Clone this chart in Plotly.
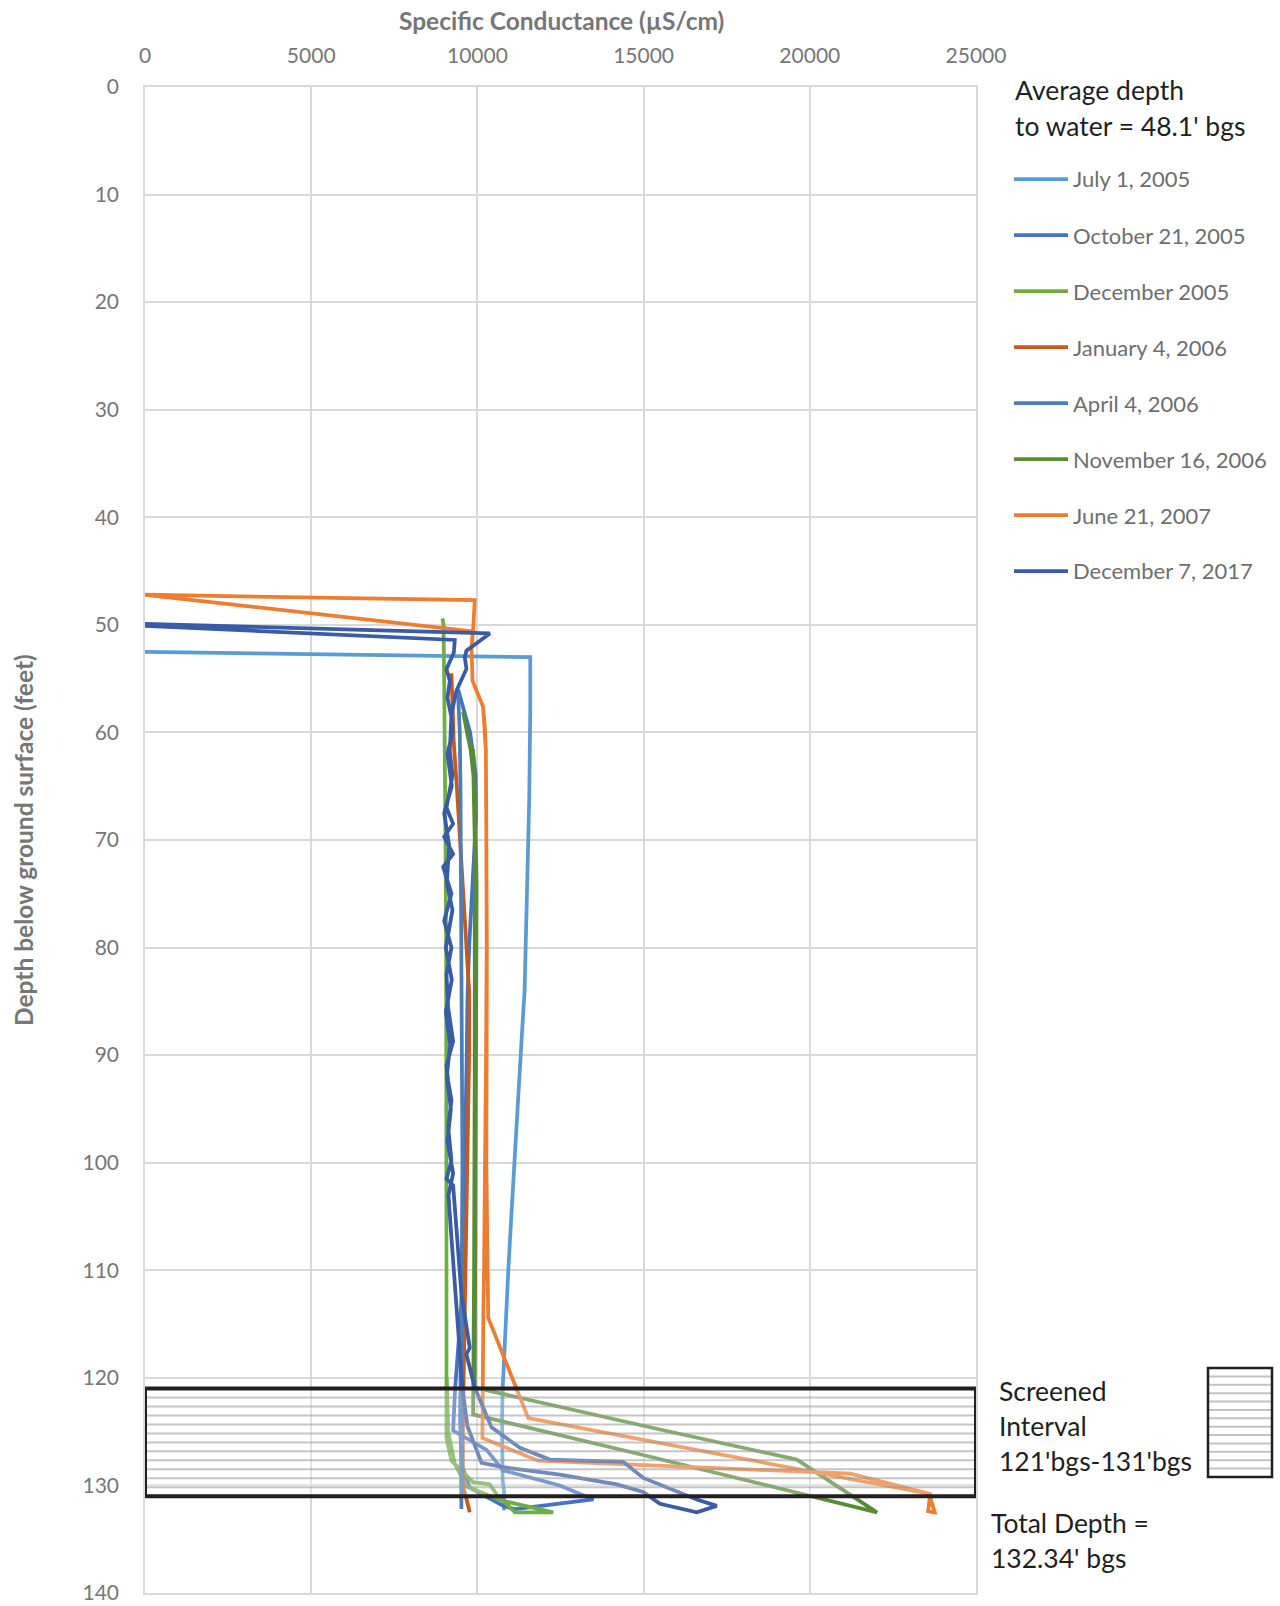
import plotly.graph_objects as go

# ---------------- specific conductance profiles (depth ft bgs, µS/cm) ----------------
jul05_depth = [52.5, 53.0, 58, 62, 66, 70, 75, 80, 84, 88, 91, 96, 100, 105, 110, 115, 118, 121, 124, 127, 129.5, 130.5, 132.3]
jul05_sc = [0, 11590, 11590, 11580, 11560, 11530, 11490, 11450, 11420, 11340, 11280, 11190, 11100, 11020, 10930, 10850, 10800, 10760, 10740, 10740, 10760, 10800, 10800]

oct05_depth = [56.0, 58.0, 60.0, 62.0, 64.0, 68, 72, 76, 80, 85, 90, 95, 100, 105, 110, 114, 118, 121, 124.9, 126.7, 128.6, 130.0, 131.3, 131.7, 132.2, 131.9, 130.2, 128.0, 124.0, 118, 110]
oct05_sc = [9420, 9600, 9780, 9870, 9950, 9960, 9900, 9820, 9750, 9700, 9680, 9650, 9620, 9600, 9560, 9500, 9400, 9330, 9270, 10275, 10775, 12480, 13490, 12480, 11130, 10775, 9770, 9520, 9480, 9500, 9540]

dec05_depth = [49.4, 50, 55, 60, 70, 80, 90, 100, 110, 120, 125.6, 127.7, 128.8, 129.7, 129.9, 130.8, 132.5, 132.5, 131.4, 130.1, 128.0, 125.0, 120]
dec05_sc = [8950, 8980, 9000, 9020, 9040, 9060, 9070, 9070, 9070, 9070, 9070, 9220, 9570, 9870, 10370, 10575, 11130, 12280, 10725, 9670, 9320, 9120, 9080]

jan06_depth = [54.5, 56, 58, 61, 65, 70, 75, 80, 84, 90, 100, 106, 110, 115, 121, 125, 129, 130.2, 131, 132.5]
jan06_sc = [9220, 9240, 9260, 9290, 9380, 9480, 9580, 9680, 9750, 9750, 9700, 9670, 9650, 9620, 9570, 9560, 9560, 9570, 9650, 9770]

apr06_depth = [56.5, 58, 60, 65, 70, 80, 90, 100, 110, 115, 120, 125, 128, 130, 132.2]
apr06_sc = [9420, 9440, 9470, 9490, 9500, 9520, 9550, 9550, 9530, 9520, 9520, 9500, 9500, 9510, 9520]

nov06_depth = [58.1, 60.5, 61.7, 64, 70, 74, 80, 90, 100, 110, 120.9, 124.8, 127.6, 132.5, 127.1, 123.4, 120.9, 110, 90, 70, 64, 61.7, 58.1]
nov06_sc = [9570, 9720, 9870, 9910, 9950, 9975, 9970, 9960, 9950, 9940, 9920, 15490, 19610, 22020, 14890, 9870, 9880, 9900, 9920, 9920, 9880, 9800, 9570]

jun07_depth = [47.2, 47.7, 50.6, 52.1, 55.2, 56.4, 57.6, 59.5, 61.7, 70, 80, 90, 100, 110, 114.0, 120, 125.6, 127.7, 128.9, 130.8,
               132.4, 132.5, 131.4, 130.8, 123.75, 114.4, 100, 80, 61.7, 57.6, 55.2, 52.1, 50.6, 47.2]
jun07_sc = [0, 9920, 9870, 9823, 9853, 10020, 10170, 10225, 10255, 10270, 10280, 10260, 10240, 10200, 10180, 10170, 10150, 11830, 21220, 23620,
            23560, 23760, 23650, 23620, 11530, 10325, 10270, 10285, 10255, 10170, 9853, 9823, 9860, 0]

dec17_depth = [49.9, 50.8, 52.4, 53.0, 54.1, 56.1, 58.3, 61.7, 64, 67, 68.5, 69.7, 71.3, 72.5, 75, 77.5, 80, 82.5, 85.6, 88.7,
               91, 92.4, 94.2, 96.7, 99.8, 101.5, 102.1, 106, 112.2, 117.2, 117.8, 120.9, 124.6, 126.5, 127.6, 127.8, 129.3,
               131.3, 131.9, 132.5, 131.7, 130.6, 129.9, 129.0, 128.3, 127.9, 124.5, 121, 117, 112, 107, 103, 101,
               98, 95, 92, 89, 86, 83, 80, 76.5, 74, 70.5, 67.5, 65, 62, 60, 58.6, 56.8, 55.2, 54.1, 52.6, 51.4, 50.1]
dec17_sc = [0, 10375, 9670, 9620, 9670, 9370, 9220, 9170, 9250, 9070, 9270, 9000, 9270, 8970, 9220, 9000, 9220, 9070, 9120, 9270,
            9070, 9120, 9220, 9120, 9220, 9070, 9270, 9370, 9520, 9770, 9670, 9920, 10425, 11280, 12180, 14390, 14990,
            16600, 17200, 16600, 15490, 14990, 14190, 12480, 10775, 10125, 9700, 9550, 9450, 9330, 9220, 9130, 9270,
            9100, 9200, 9080, 9180, 9050, 9230, 9050, 9250, 9080, 9150, 9000, 9230, 9100, 9250, 9220, 9100, 9170, 9070, 9290, 9320, 0]

series_names = ["July 1, 2005", "October 21, 2005", "December 2005", "January 4, 2006",
                "April 4, 2006", "November 16, 2006", "June 21, 2007", "December 7, 2017"]
series_depths = [jul05_depth, oct05_depth, dec05_depth, jan06_depth, apr06_depth, nov06_depth, jun07_depth, dec17_depth]
series_values = [jul05_sc, oct05_sc, dec05_sc, jan06_sc, apr06_sc, nov06_sc, jun07_sc, dec17_sc]
series_colors = ["#5B9BD5", "#4472C4", "#70AD47", "#C65A1E", "#4C7EB6", "#578B37", "#ED7D31", "#3A5BA6"]

x_ticks = [0, 5000, 10000, 15000, 20000, 25000]
y_ticks = list(range(0, 141, 10))
screen_top, screen_bottom = 121, 131

# ---------------- page geometry ----------------
FIG_W, FIG_H = 1280, 1606
L, R, T, B = 145, 976, 87, 1593
PW, PH = R - L, B - T
FONT = "Lato, 'Open Sans', sans-serif"


def pxx(px):
    return (px - L) / PW


def pxy(py):
    return 1 - (py - T) / PH


fig = go.Figure()
for name, d, v, c in zip(series_names, series_depths, series_values, series_colors):
    fig.add_trace(go.Scatter(x=v, y=d, mode="lines", name=name,
                             line=dict(color=c, width=3.75), showlegend=False))

shapes = []
annotations = []

# screened interval: translucent hatched band over the profiles
shapes.append(dict(type="rect", xref="x", yref="y", x0=x_ticks[0], x1=x_ticks[-1],
                   y0=screen_top, y1=screen_bottom, fillcolor="rgba(255,255,255,0.28)",
                   line=dict(width=0), layer="above"))
n_stripes = 12
for k in range(1, n_stripes):
    yy = screen_top + k * (screen_bottom - screen_top) / n_stripes
    shapes.append(dict(type="line", xref="x", yref="y", x0=x_ticks[0], x1=x_ticks[-1], y0=yy, y1=yy,
                       line=dict(color="rgba(150,150,150,0.55)", width=2), layer="above"))
shapes.append(dict(type="rect", xref="x", yref="y", x0=x_ticks[0], x1=x_ticks[-1],
                   y0=screen_top, y1=screen_bottom, line=dict(color="#231F20", width=4), layer="above"))

# legend header
HEAD_SIZE = 26.5
annotations.append(dict(xref="paper", yref="paper", x=pxx(1013), y=pxy(90), text="Average depth",
                        showarrow=False, xanchor="left", yanchor="middle",
                        font=dict(family=FONT, size=HEAD_SIZE, color="#1F1F1F")))
annotations.append(dict(xref="paper", yref="paper", x=pxx(1013), y=pxy(126), text="to water = 48.1' bgs",
                        showarrow=False, xanchor="left", yanchor="middle",
                        font=dict(family=FONT, size=HEAD_SIZE, color="#1F1F1F")))

# legend entries
first_row, row_gap = 179, 56.0
for i, (name, c) in enumerate(zip(series_names, series_colors)):
    yc = first_row + i * row_gap
    shapes.append(dict(type="line", xref="paper", yref="paper", x0=pxx(1014), x1=pxx(1068),
                       y0=pxy(yc), y1=pxy(yc), line=dict(color=c, width=3.75)))
    annotations.append(dict(xref="paper", yref="paper", x=pxx(1071), y=pxy(yc), text=name,
                            showarrow=False, xanchor="left", yanchor="middle",
                            font=dict(family=FONT, size=22, color="#6E6E6E")))

# screened-interval key box
kx0, kx1, ky0, ky1 = 1208, 1272, 1368, 1477
n_key = 13
for k in range(1, n_key):
    yy = ky0 + k * (ky1 - ky0) / n_key
    shapes.append(dict(type="line", xref="paper", yref="paper", x0=pxx(kx0), x1=pxx(kx1),
                       y0=pxy(yy), y1=pxy(yy), line=dict(color="rgba(170,170,170,0.7)", width=2)))
shapes.append(dict(type="rect", xref="paper", yref="paper", x0=pxx(kx0), x1=pxx(kx1),
                   y0=pxy(ky1), y1=pxy(ky0), line=dict(color="#231F20", width=2.5)))

for txt, xx, yy in [("Screened", 997, 1391), ("Interval", 997, 1426), ("121'bgs-131'bgs", 997, 1461),
                    ("Total Depth =", 989, 1523), ("132.34' bgs", 989, 1558)]:
    annotations.append(dict(xref="paper", yref="paper", x=pxx(xx), y=pxy(yy), text=txt,
                            showarrow=False, xanchor="left", yanchor="middle",
                            font=dict(family=FONT, size=HEAD_SIZE, color="#1F1F1F")))

# axis titles
annotations.append(dict(xref="paper", yref="paper", x=pxx(561), y=pxy(20),
                        text="<b>Specific Conductance (µS/cm)</b>", showarrow=False,
                        xanchor="center", yanchor="middle",
                        font=dict(family=FONT, size=24.5, color="#767676")))
annotations.append(dict(xref="paper", yref="paper", x=pxx(23), y=pxy(840),
                        text="<b>Depth below ground surface (feet)</b>", showarrow=False,
                        textangle=-90, xanchor="center", yanchor="middle",
                        font=dict(family=FONT, size=24.5, color="#767676")))

grid = "#D9D9D9"
fig.update_layout(
    width=FIG_W, height=FIG_H,
    margin=dict(l=L, r=FIG_W - R, t=T, b=FIG_H - B, autoexpand=False),
    paper_bgcolor="white", plot_bgcolor="white",
    font=dict(family=FONT),
    showlegend=False,
    xaxis=dict(side="top", range=[x_ticks[0], x_ticks[-1]], tickvals=x_ticks,
               ticktext=[str(t) for t in x_ticks], automargin=False,
               showgrid=True, gridcolor=grid, gridwidth=1.5, zeroline=False,
               showline=True, mirror=True, linecolor=grid, linewidth=1.5,
               ticks="", ticklabelstandoff=14,
               tickfont=dict(family=FONT, size=21, color="#767676")),
    yaxis=dict(range=[y_ticks[-1], y_ticks[0]], tickvals=y_ticks, automargin=False,
               showgrid=True, gridcolor=grid, gridwidth=1.5, zeroline=False,
               showline=True, mirror=True, linecolor=grid, linewidth=1.5,
               ticks="", ticklabelstandoff=20,
               tickfont=dict(family=FONT, size=21, color="#767676")),
    shapes=shapes,
    annotations=annotations,
)

fig.write_html("out.html")
